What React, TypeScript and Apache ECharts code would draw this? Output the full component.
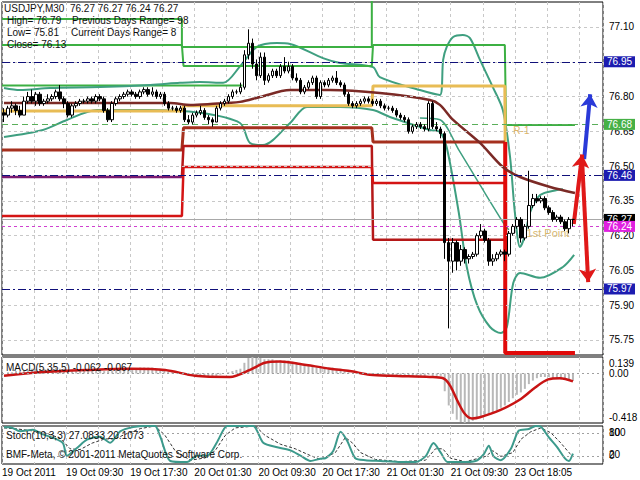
import React, { useEffect, useRef } from "react";
import * as echarts from "echarts";

const FONT = "Liberation Sans";

const xTickLabels = ["19 Oct 2011", "19 Oct 09:30", "19 Oct 17:30", "20 Oct 01:30", "20 Oct 09:30", "20 Oct 17:30", "21 Oct 01:30", "21 Oct 09:30", "23 Oct 18:05"];
const priceTicks = [77.10, 76.95, 76.80, 76.65, 76.50, 76.35, 76.20, 76.05, 75.90, 75.75];

const opens = [
  76.73, 76.72, 76.75, 76.76, 76.74, 76.72, 76.78, 76.80, 76.78, 76.81,
  76.77, 76.78, 76.79, 76.80, 76.82, 76.79, 76.77, 76.72, 76.76, 76.77,
  76.78, 76.78, 76.79, 76.78, 76.80, 76.79, 76.74, 76.70, 76.77, 76.79,
  76.80, 76.81, 76.82, 76.81, 76.80, 76.82, 76.83, 76.81, 76.82, 76.80,
  76.81, 76.77, 76.75, 76.75, 76.74, 76.75, 76.70, 76.69, 76.72, 76.73,
  76.74, 76.71, 76.70, 76.69, 76.75, 76.77, 76.78, 76.80, 76.82, 76.82,
  76.84, 76.98, 77.03, 76.94, 76.89, 76.97, 76.87, 76.89, 76.91, 76.89,
  76.93, 76.91, 76.93, 76.88, 76.87, 76.82, 76.84, 76.86, 76.88, 76.80,
  76.86, 76.85, 76.87, 76.88, 76.86, 76.85, 76.81, 76.77, 76.76, 76.77,
  76.78, 76.79, 76.78, 76.77, 76.78, 76.76, 76.75, 76.75, 76.74, 76.72,
  76.71, 76.70, 76.65, 76.67, 76.68, 76.67, 76.66, 76.77, 76.67, 76.66,
  76.64, 76.17, 76.09, 76.17, 76.09, 76.14, 76.10, 76.11, 76.12, 76.20,
  76.22, 76.18, 76.09, 76.10, 76.12, 76.13, 76.12, 76.21, 76.24, 76.27,
  76.19, 76.24, 76.33, 76.36, 76.35, 76.36, 76.32, 76.30, 76.27, 76.28,
  76.26, 76.23, 76.27,
];
const closes = [
  76.72, 76.75, 76.76, 76.74, 76.72, 76.78, 76.80, 76.78, 76.81, 76.77,
  76.78, 76.79, 76.80, 76.82, 76.79, 76.77, 76.72, 76.76, 76.77, 76.78,
  76.78, 76.79, 76.78, 76.80, 76.79, 76.74, 76.70, 76.77, 76.79, 76.80,
  76.81, 76.82, 76.81, 76.80, 76.82, 76.83, 76.81, 76.82, 76.80, 76.81,
  76.77, 76.75, 76.75, 76.74, 76.75, 76.70, 76.69, 76.72, 76.73, 76.74,
  76.71, 76.70, 76.69, 76.75, 76.77, 76.78, 76.80, 76.82, 76.82, 76.84,
  76.98, 77.03, 76.94, 76.89, 76.97, 76.87, 76.89, 76.91, 76.89, 76.93,
  76.91, 76.93, 76.88, 76.87, 76.82, 76.84, 76.86, 76.88, 76.80, 76.86,
  76.85, 76.87, 76.88, 76.86, 76.85, 76.81, 76.77, 76.76, 76.77, 76.78,
  76.79, 76.78, 76.77, 76.78, 76.76, 76.75, 76.75, 76.74, 76.72, 76.71,
  76.70, 76.65, 76.67, 76.68, 76.67, 76.66, 76.77, 76.67, 76.66, 76.64,
  76.17, 76.09, 76.17, 76.09, 76.14, 76.10, 76.11, 76.12, 76.20, 76.22,
  76.18, 76.09, 76.10, 76.12, 76.13, 76.12, 76.21, 76.24, 76.27, 76.19,
  76.24, 76.33, 76.36, 76.35, 76.36, 76.32, 76.30, 76.27, 76.28, 76.26,
  76.23, 76.27, 76.27,
];
const lows = [
  76.69, 76.71, 76.73, 76.72, 76.71, 76.72, 76.77, 76.77, 76.76, 76.76,
  76.76, 76.77, 76.78, 76.79, 76.78, 76.75, 76.71, 76.71, 76.75, 76.76,
  76.77, 76.77, 76.77, 76.77, 76.78, 76.73, 76.69, 76.69, 76.76, 76.78,
  76.79, 76.80, 76.80, 76.79, 76.79, 76.81, 76.80, 76.80, 76.79, 76.79,
  76.76, 76.74, 76.74, 76.73, 76.73, 76.69, 76.68, 76.68, 76.71, 76.72,
  76.70, 76.68, 76.67, 76.69, 76.74, 76.76, 76.77, 76.79, 76.81, 76.81,
  76.83, 76.96, 76.92, 76.87, 76.88, 76.85, 76.86, 76.88, 76.88, 76.88,
  76.90, 76.90, 76.87, 76.86, 76.81, 76.81, 76.83, 76.85, 76.79, 76.79,
  76.84, 76.84, 76.86, 76.85, 76.84, 76.80, 76.76, 76.75, 76.75, 76.76,
  76.77, 76.77, 76.76, 76.76, 76.75, 76.74, 76.74, 76.73, 76.71, 76.70,
  76.69, 76.64, 76.64, 76.66, 76.66, 76.65, 76.65, 76.66, 76.65, 76.62,
  76.10, 75.80, 76.04, 76.05, 76.07, 76.08, 76.08, 76.10, 76.11, 76.19,
  76.17, 76.07, 76.07, 76.09, 76.11, 76.09, 76.11, 76.20, 76.23, 76.17,
  76.18, 76.23, 76.32, 76.34, 76.34, 76.31, 76.29, 76.26, 76.26, 76.25,
  76.22, 76.21, 76.24,
];
const highs = [
  76.75, 76.76, 76.78, 76.77, 76.76, 76.80, 76.82, 76.83, 76.82, 76.82,
  76.79, 76.81, 76.81, 76.83, 76.85, 76.80, 76.78, 76.77, 76.78, 76.79,
  76.79, 76.80, 76.80, 76.81, 76.81, 76.80, 76.75, 76.78, 76.80, 76.81,
  76.82, 76.83, 76.83, 76.82, 76.83, 76.84, 76.84, 76.84, 76.83, 76.82,
  76.82, 76.78, 76.76, 76.76, 76.76, 76.76, 76.72, 76.73, 76.74, 76.76,
  76.75, 76.72, 76.71, 76.76, 76.78, 76.79, 76.81, 76.83, 76.83, 76.86,
  77.00, 77.09, 77.05, 76.96, 76.99, 76.99, 76.90, 76.92, 76.92, 76.94,
  76.97, 76.95, 76.94, 76.90, 76.88, 76.85, 76.87, 76.89, 76.89, 76.87,
  76.87, 76.88, 76.89, 76.91, 76.87, 76.86, 76.82, 76.78, 76.78, 76.79,
  76.80, 76.80, 76.79, 76.79, 76.79, 76.77, 76.76, 76.76, 76.75, 76.73,
  76.72, 76.71, 76.68, 76.69, 76.69, 76.68, 76.78, 76.78, 76.69, 76.67,
  76.65, 76.19, 76.19, 76.18, 76.16, 76.15, 76.12, 76.13, 76.21, 76.25,
  76.23, 76.19, 76.12, 76.13, 76.14, 76.14, 76.22, 76.25, 76.28, 76.28,
  76.25, 76.48, 76.38, 76.38, 76.37, 76.37, 76.33, 76.31, 76.29, 76.29,
  76.27, 76.28, 76.27,
];

// indicator lines: [bar position, value]
const upperBand = [[0.5, 76.837], [4.5, 76.828], [12, 76.837], [24.5, 76.841], [37, 76.85], [44.4, 76.859], [49.4, 76.863], [55.2, 76.859], [59.4, 76.93], [63.6, 77.014], [68.6, 77.031], [71.9, 77.027], [80.1, 76.966], [84.4, 76.945], [92.6, 76.927], [94.3, 76.884], [104.3, 76.828], [109.3, 76.807], [110.1, 76.958], [111, 77.014], [112.6, 77.057], [115, 77.066], [116.8, 77.052], [119.3, 76.958], [122.5, 76.841], [125, 76.742], [126.8, 76.54], [128, 76.30], [129.3, 76.151], [130.5, 76.20], [131.8, 76.30], [134.3, 76.375], [138.5, 76.397], [140, 76.40]];
const midBand = [[104.3, 76.708], [109.3, 76.70], [114, 76.57], [119.3, 76.419], [125, 76.259], [126.5, 76.225]];
const lowerBand = [[0.5, 76.626], [10.2, 76.656], [16.2, 76.699], [23.7, 76.742], [36.2, 76.742], [49.4, 76.73], [59.4, 76.686], [61.9, 76.60], [65.1, 76.591], [71.9, 76.686], [76.1, 76.755], [84.4, 76.755], [92.6, 76.742], [96.8, 76.712], [106.8, 76.656], [109.3, 76.647], [111, 76.58], [114, 76.30], [116, 76.065], [118.6, 75.90], [121.8, 75.806], [124.5, 75.78], [126, 75.806], [127.6, 75.996], [129.3, 76.039], [134.3, 76.018], [140, 76.065], [142.8, 76.117]];
const maLine = [[0.5, 76.772], [42, 76.772], [47, 76.764], [52, 76.768], [59.4, 76.777], [64.4, 76.798], [71.9, 76.828], [81.9, 76.828], [94.3, 76.815], [106.8, 76.785], [109.3, 76.764], [112.6, 76.699], [119.3, 76.60], [125, 76.496], [129.3, 76.453], [136.8, 76.41], [143, 76.384]];

// daily levels (step lines)
const greenHi = [[0, 77.134], [44.9, 77.134], [44.9, 77.014], [92.3, 77.014], [92.3, 77.4]];
const greenMid = [[0, 77.022], [44.9, 77.022], [45.3, 76.932], [92.3, 76.932], [92.6, 77.022], [125.5, 77.022], [125.8, 76.677], [143, 76.677]];
const greenLow = [[0, 76.848], [60, 76.848]];
const pivotGold = [[0, 76.738], [44.9, 76.738], [45.3, 76.76], [92.3, 76.76], [92.6, 76.846], [125.5, 76.846], [125.7, 76.225]];
const redA = [[0, 76.57], [44.9, 76.57], [45.3, 76.665], [92.3, 76.665], [92.6, 76.604], [125.5, 76.604]];
const purpleA = [[0, 76.453], [44.9, 76.453]];
const redB = [[44.9, 76.453], [45.3, 76.587], [92.3, 76.587], [92.6, 76.182], [125.5, 76.182]];
const redC = [[0, 76.285], [44.9, 76.285], [45.3, 76.496], [92.3, 76.496], [92.6, 76.427], [125.5, 76.427]];
const redDrop = [[125.6, 76.604], [125.6, 75.694], [143, 75.694]];

const navyLevels = [76.95, 76.46, 75.97];
const greenLevel = 76.68;
const bidLevel = 76.27;
const askLevel = 76.24;

const macdHist = [
  0.00, 0.01, 0.01, 0.02, 0.02, 0.03, 0.03, 0.04, 0.04, 0.04,
  0.04, 0.04, 0.05, 0.05, 0.04, 0.04, 0.03, 0.03, 0.03, 0.03,
  0.03, 0.03, 0.03, 0.03, 0.03, 0.02, 0.02, 0.02, 0.03, 0.03,
  0.04, 0.04, 0.04, 0.04, 0.05, 0.05, 0.05, 0.05, 0.04, 0.04,
  0.03, 0.02, 0.01, 0.00, 0.00, -0.01, -0.02, -0.02, -0.02, -0.02,
  -0.03, -0.03, -0.03, -0.02, -0.01, 0.00, 0.01, 0.02, 0.03, 0.04,
  0.09, 0.13, 0.139, 0.13, 0.13, 0.12, 0.12, 0.12, 0.11, 0.11,
  0.11, 0.11, 0.10, 0.09, 0.07, 0.07, 0.07, 0.07, 0.05, 0.05,
  0.05, 0.05, 0.05, 0.04, 0.04, 0.03, 0.01, 0.00, 0.00, 0.00,
  0.00, 0.00, -0.01, -0.01, -0.01, -0.01, -0.02, -0.02, -0.02, -0.02,
  -0.02, -0.03, -0.03, -0.03, -0.03, -0.03, -0.01, -0.02, -0.02, -0.02,
  -0.15, -0.27, -0.34, -0.39, -0.41, -0.418, -0.41, -0.40, -0.38, -0.36,
  -0.35, -0.35, -0.33, -0.31, -0.29, -0.27, -0.24, -0.21, -0.18, -0.16,
  -0.13, -0.09, -0.06, -0.04, -0.03, -0.03, -0.03, -0.04, -0.04, -0.05,
  -0.05, -0.06, -0.062,
];
const macdSignal = [[0.5, -0.02], [9.5, 0.01], [22, 0.03], [32, 0.04], [40.7, 0.03], [48.2, -0.02], [56.9, -0.03], [61.9, 0.03], [65.6, 0.09], [69.4, 0.10], [74.4, 0.08], [81.9, 0.04], [86.8, 0.02], [91.8, -0.01], [96.8, -0.02], [106.8, -0.03], [110.1, -0.04], [111.8, -0.10], [113.8, -0.24], [115.5, -0.34], [117.3, -0.38], [119.3, -0.37], [124.3, -0.31], [129.3, -0.22], [133, -0.12], [136.3, -0.05], [139.3, -0.04], [142.5, -0.067]];
const macdScaleLabels = ["0.139", "0.00", "-0.418"];

const stochMain = [[0.5, 97], [2, 97], [4.5, 86], [7.7, 90], [10.2, 78], [12.7, 69], [15.2, 55], [16.2, 22], [18.7, 42], [21.2, 64], [24.5, 72], [27, 56], [29.5, 86], [32.7, 97], [36.2, 100], [38.2, 100], [39.5, 72], [42, 8], [46.2, 5], [48.7, 22], [51.2, 22], [53.7, 58], [56.2, 100], [59.5, 100], [62.7, 100], [65.2, 56], [68.7, 44], [72, 36], [74.5, 22], [77, 8], [79.5, 14], [80.7, 15], [82.7, 35], [84.5, 85], [86.2, 60], [88.2, 15], [90.7, 10], [94.5, 8], [99.5, 5], [103.2, 5], [105.7, 20], [107.7, 55], [109.5, 30], [111.2, 5], [114.5, 5], [118.2, 8], [120.2, 25], [121.5, 48], [122.7, 20], [124.5, 10], [127, 40], [129, 88], [131.5, 92], [133.2, 100], [134.5, 98], [136.5, 70], [138.5, 45], [140.5, 15], [141.5, 8], [142.5, 27.08]];
const stochSignal = [[0.5, 95], [3.2, 93], [7, 88], [10.7, 82], [14.5, 68], [17, 40], [19.5, 38], [22.5, 55], [25.7, 66], [28.2, 66], [30.7, 78], [34.5, 93], [38.2, 100], [40.7, 75], [43.2, 35], [47, 10], [50.7, 16], [53.2, 35], [55.7, 75], [58.2, 95], [63.2, 100], [65.7, 75], [69.5, 52], [73.2, 40], [77, 22], [79.5, 12], [83.2, 30], [85.7, 70], [87.5, 55], [89.5, 30], [93.2, 12], [99.5, 6], [105.7, 10], [108.2, 40], [110, 40], [112, 15], [115.7, 6], [120.7, 20], [122.5, 35], [124.5, 20], [127.5, 30], [129.5, 65], [132, 85], [134.5, 95], [137, 82], [139.5, 55], [141.5, 30], [142.5, 20.11]];

const blueArrow = [[145.3, 76.53], [146.8, 76.81]];
const redArrowUp = [[142.7, 76.25], [144.8, 76.55]];
const redArrowDown = [[144.8, 76.52], [146.3, 76.0]];

const N = 150;
const cats = Array.from({ length: N }, (_, i) => String(i));

function buildOption() {
  const lbl = { fontFamily: FONT, fontSize: 10, color: "#000" };
  const gridLine = { color: "#c8c8c8", type: [3, 3] as number[], width: 1 };
  const noLine = { color: "rgba(0,0,0,0)", width: 1 };
  const valX = (gridIndex: number, labels: boolean) => ({
    type: "value", gridIndex, min: 0, max: N, interval: 8,
    axisLine: { show: false }, axisTick: { show: false },
    axisLabel: labels
      ? {
          show: true, ...lbl, align: "left", margin: 3,
          formatter: (v: number) => (v % 16 === 0 && v / 16 < xTickLabels.length ? xTickLabels[v / 16] : ""),
        }
      : { show: false },
    splitLine: { show: true, lineStyle: gridLine },
  });
  const ln = (data: number[][], color: string, width: number, extra: any = {}) => ({
    type: "line", xAxisIndex: 1, yAxisIndex: 0, data, showSymbol: false, symbol: "none",
    lineStyle: { color, width }, silent: true, z: 3, ...extra,
  });
  const hidden = { type: "line", data: [], silent: true, symbol: "none" };
  const boxLabel = (text: string, bg: string) => ({
    show: true, position: "end", formatter: text, distance: 1, ...lbl, color: "#fff",
    backgroundColor: bg, padding: [1, 3, 0, 3],
  });
  const txt = (text: string, left: number, top: number) => ({
    type: "text", left, top, z: 100, style: { text, fill: "#111", fontSize: 10, fontFamily: FONT },
  });

  return {
    animation: false,
    backgroundColor: "#ffffff",
    textStyle: { fontFamily: FONT },
    grid: [
      { left: 2, top: 2, width: 601, height: 353, show: true, borderColor: "#000", borderWidth: 1, backgroundColor: "#fff", outerBoundsMode: "none" },
      { left: 2, top: 357, width: 601, height: 66, show: true, borderColor: "#000", borderWidth: 1, backgroundColor: "#fff", outerBoundsMode: "none" },
      { left: 2, top: 426, width: 601, height: 38, show: true, borderColor: "#000", borderWidth: 1, backgroundColor: "#fff", outerBoundsMode: "none" },
    ],
    xAxis: [
      { type: "category", gridIndex: 0, data: cats, boundaryGap: true, show: false },
      valX(0, false),
      { type: "category", gridIndex: 1, data: cats, boundaryGap: true, show: false },
      valX(1, false),
      valX(2, true),
    ],
    yAxis: [
      { type: "value", gridIndex: 0, min: 75.6853, max: 77.2078, show: false },
      { type: "value", gridIndex: 1, min: -0.418, max: 0.139, show: false },
      { type: "value", gridIndex: 2, min: 0, max: 100, show: false },
    ],
    graphic: [
      txt("USDJPY,M30  76.27 76.27 76.24 76.27", 4, 3),
      txt("High= 76.79", 7, 15),
      txt("Previous Days Range= 98", 72, 15),
      txt("Low= 75.81", 7, 27),
      txt("Current Days Range= 8", 71, 27),
      txt("Close= 76.13", 7, 39),
      txt("MACD(5,35,5) -0.062 -0.067", 6, 362),
      txt("Stoch(10,3,3) 27.0833 20.1073", 6, 430),
      txt("BMF-Meta, © 2001-2011 MetaQuotes Software Corp.", 6, 449),
    ],
    series: [
      {
        ...hidden, xAxisIndex: 1, yAxisIndex: 0, z: 1,
        markLine: {
          symbol: "none", silent: true, animation: false,
          data: priceTicks.map((p) => ({
            yAxis: p, lineStyle: gridLine,
            label: { show: true, position: "end", formatter: p.toFixed(2), distance: 6, ...lbl },
          })),
        },
      },
      ln(greenLow, "#3cb043", 2, { z: 2 }),
      ln(upperBand, "#3f9f80", 2, { smooth: 0.3 }),
      ln(midBand, "#3f9f80", 1.5, { smooth: 0.3 }),
      ln(lowerBand, "#3f9f80", 2, { smooth: 0.3 }),
      ln(greenHi, "#3cb043", 2),
      ln(greenMid, "#3cb043", 2),
      ln(pivotGold, "#e8bc55", 3),
      ln(redA, "#a5301e", 3),
      ln(purpleA, "#7a1a70", 2.5),
      ln(redB, "#b51818", 2.5),
      ln(redC, "#d41414", 2.5),
      ln(redDrop, "#e00a0a", 4),
      ln(maLine, "#7b2a26", 2.5, { smooth: 0.3 }),
      {
        ...hidden, xAxisIndex: 1, yAxisIndex: 0, z: 4,
        markLine: {
          symbol: "none", silent: true, animation: false,
          data: [
            { yAxis: bidLevel, lineStyle: { color: "#a8a8a8", width: 1, type: "solid" }, label: boxLabel(bidLevel.toFixed(2), "#000000") },
            { yAxis: greenLevel, lineStyle: { color: "#5aae5a", width: 1, type: [6, 4] }, label: boxLabel(greenLevel.toFixed(2), "#46b046") },
            ...navyLevels.map((p) => ({ yAxis: p, lineStyle: { color: "#10107a", width: 1, type: [8, 3, 2, 3] }, label: boxLabel(p.toFixed(2), "#1c1cb0") })),
            { yAxis: askLevel, lineStyle: { color: "#d040d0", width: 1, type: [3, 3] }, label: boxLabel(askLevel.toFixed(2), "#e020e0") },
          ],
        },
        markPoint: {
          symbol: "rect", symbolSize: 1, silent: true, itemStyle: { color: "rgba(0,0,0,0)" },
          data: [
            { coord: [127.5, 76.652], label: { show: true, position: "right", distance: 0, formatter: "R-1", fontFamily: FONT, fontSize: 10, color: "#dcb46a" } },
            { coord: [130.8, 76.212], label: { show: true, position: "right", distance: 0, formatter: "1st Point", fontFamily: FONT, fontSize: 11, color: "#d8b870" } },
          ],
        },
      },
      {
        type: "candlestick", xAxisIndex: 0, yAxisIndex: 0, z: 5, silent: true,
        data: opens.map((o, i) => [o, closes[i], lows[i], highs[i]]),
        barMaxWidth: 3, barWidth: 3,
        itemStyle: { color: "#ffffff", color0: "#000000", borderColor: "#000000", borderColor0: "#000000", borderWidth: 1 },
      },
      {
        ...hidden, xAxisIndex: 1, yAxisIndex: 0, z: 6,
        markLine: {
          symbol: ["none", "arrow"], symbolSize: 13, silent: true, animation: false,
          lineStyle: { color: "#2a3ad8", width: 4, type: "solid" }, label: { show: false },
          data: [[{ coord: blueArrow[0] }, { coord: blueArrow[1] }]],
        },
      },
      {
        ...hidden, xAxisIndex: 1, yAxisIndex: 0, z: 6,
        markLine: {
          symbol: ["none", "arrow"], symbolSize: 13, silent: true, animation: false,
          lineStyle: { color: "#e01818", width: 4, type: "solid" }, label: { show: false },
          data: [
            [{ coord: redArrowUp[0] }, { coord: redArrowUp[1] }],
            [{ coord: redArrowDown[0] }, { coord: redArrowDown[1] }],
          ],
        },
      },
      {
        type: "bar", xAxisIndex: 2, yAxisIndex: 1, data: macdHist, barWidth: 2, silent: true,
        itemStyle: { color: "#b8b8b8" }, z: 2,
      },
      {
        type: "line", xAxisIndex: 3, yAxisIndex: 1, data: macdSignal, smooth: 0.3, showSymbol: false, symbol: "none",
        lineStyle: { color: "#c81414", width: 2.5 }, silent: true, z: 3,
        markLine: {
          symbol: "none", silent: true, animation: false,
          data: [
            { yAxis: 0, lineStyle: { color: "#a0a0a0", width: 1, type: [2, 3] }, label: { show: true, position: "end", formatter: macdScaleLabels[1], distance: 6, ...lbl } },
            { yAxis: 0.12, lineStyle: noLine, label: { show: true, position: "end", formatter: macdScaleLabels[0], distance: 6, offset: [0, 4], ...lbl } },
            { yAxis: -0.40, lineStyle: noLine, label: { show: true, position: "end", formatter: macdScaleLabels[2], distance: 6, offset: [0, -3], ...lbl } },
          ],
        },
      },
      {
        type: "line", xAxisIndex: 4, yAxisIndex: 2, data: stochSignal, showSymbol: false, symbol: "none",
        lineStyle: { color: "#333", width: 1, type: [3, 2] }, silent: true, z: 2,
        markLine: {
          symbol: "none", silent: true, animation: false,
          data: [
            { yAxis: 80, lineStyle: { color: "#a0a0a0", width: 1, type: [2, 3] }, label: { show: true, position: "end", formatter: "80", distance: 6, offset: [0, -1], ...lbl } },
            { yAxis: 20, lineStyle: { color: "#a0a0a0", width: 1, type: [2, 3] }, label: { show: true, position: "end", formatter: "20", distance: 6, offset: [0, -2], ...lbl } },
            { yAxis: 100, lineStyle: noLine, label: { show: true, position: "end", formatter: "100", distance: 6, offset: [0, 6], ...lbl } },
            { yAxis: 0, lineStyle: noLine, label: { show: true, position: "end", formatter: "0", distance: 6, offset: [0, -9], ...lbl } },
          ],
        },
      },
      {
        type: "line", xAxisIndex: 4, yAxisIndex: 2, data: stochMain, smooth: 0.25, showSymbol: false, symbol: "none",
        lineStyle: { color: "#3c9a8c", width: 2 }, silent: true, z: 3,
      },
    ],
  };
}

export default function App() {
  const ref = useRef<HTMLDivElement>(null);
  useEffect(() => {
    const chart = echarts.init(ref.current as HTMLDivElement, null, { renderer: "svg" });
    chart.setOption(buildOption() as any);
    return () => chart.dispose();
  }, []);
  return <div ref={ref} style={{ position: "fixed", left: 0, top: 0, width: 640, height: 480, background: "#fff" }} />;
}
